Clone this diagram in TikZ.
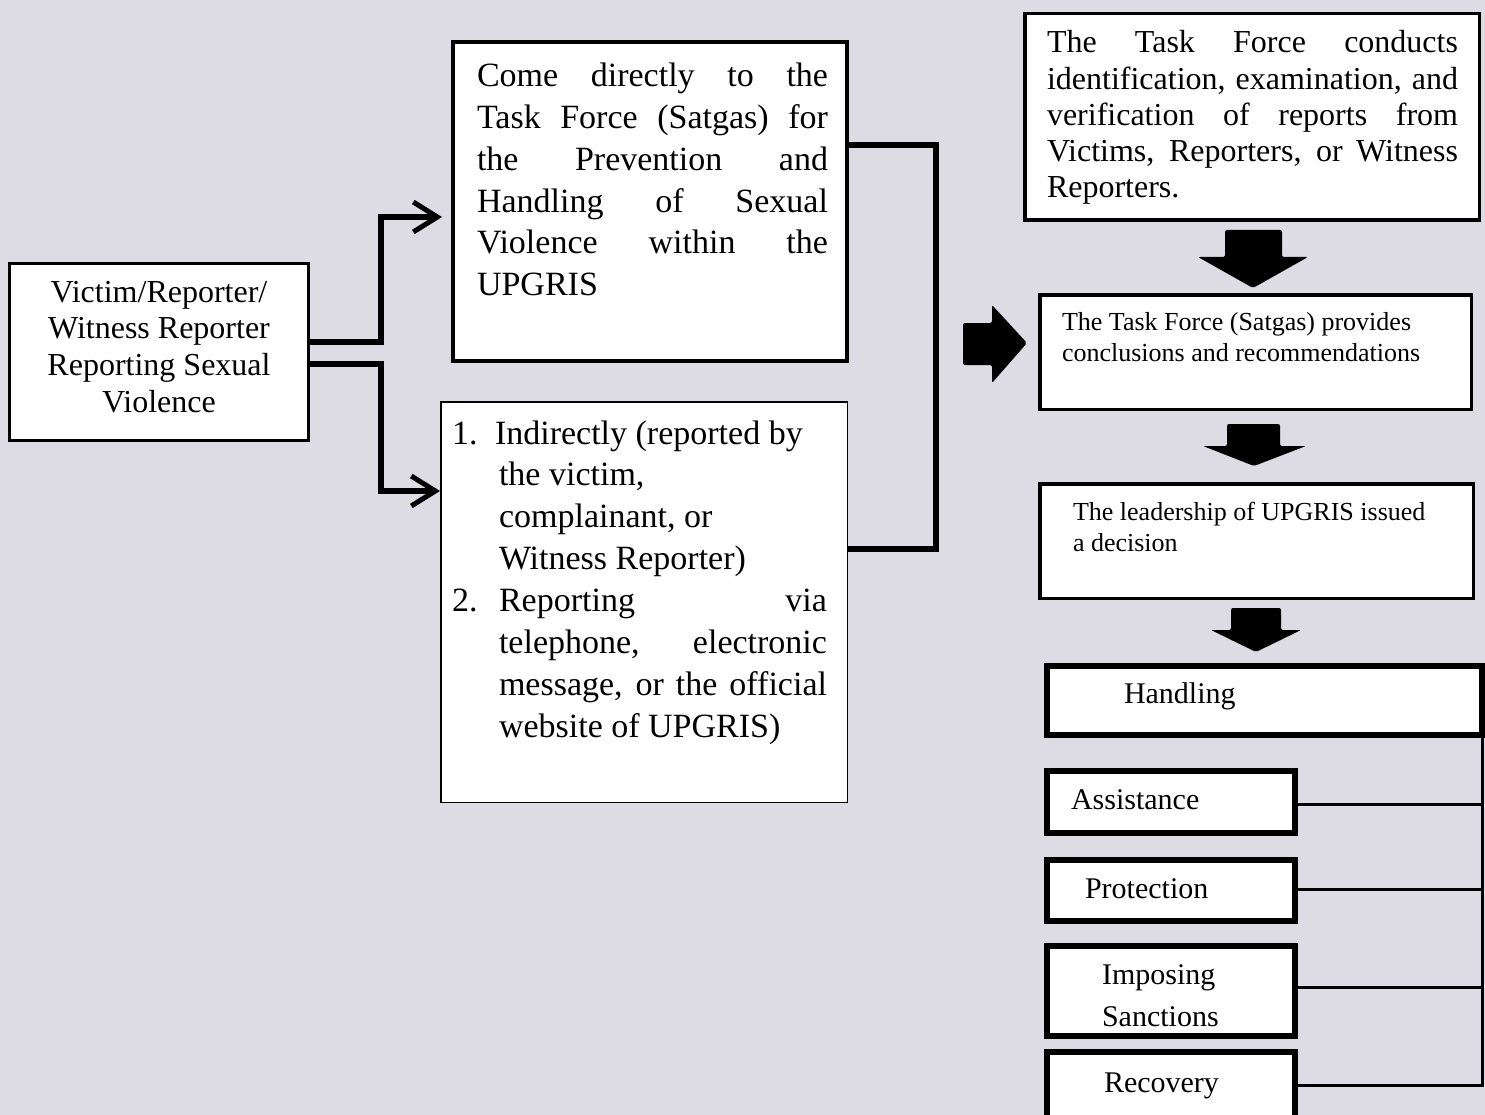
\documentclass[tikz,border=0pt]{standalone}
\usepackage{fontspec}
\setmainfont{Liberation Serif}
\usetikzlibrary{arrows.meta}
\definecolor{bg}{RGB}{221,220,229}
\newcommand\jl[1]{\makebox[\linewidth][s]{#1}}
\begin{document}
\begin{tikzpicture}[x=1pt,y=-1pt,
  box/.style={draw=black, fill=white, rectangle, inner sep=0pt, outer sep=0pt},
  txt/.style={anchor=base west, inner sep=0pt, outer sep=0pt},
  conn/.style={draw=black, line width=6pt},
  barb/.style={-{Straight Barb[length=24pt,width=30pt,line width=5pt]}},
  blockarrow/.style={fill=black, rounded corners=2pt},
  tie/.style={draw=black, line width=3pt}]
\useasboundingbox (0,0) rectangle (1485,1115);
\fill[bg] (0,0) rectangle (1485,1115);
\clip (0,0) rectangle (1485,1115);

% free ends of the left connectors
\coordinate (tipB) at (442,217);
\coordinate (tipC) at (440,491);

% boxes
\node[box, line width=3pt, minimum width=299pt, minimum height=177pt] (A) at (159,352) {};
\node[box, line width=4pt, minimum width=394pt, minimum height=319pt] (B) at (650,201.5) {};
\node[box, line width=1.5pt, minimum width=406.5pt, minimum height=400.5pt] (C) at (644,602) {};
\node[box, line width=3.5pt, minimum width=454.5pt, minimum height=206.5pt] (D) at (1252,117) {};
\node[box, line width=3.5pt, minimum width=431.5pt, minimum height=114.5pt] (E) at (1255.5,352) {};
\node[box, line width=3.5pt, minimum width=433.5pt, minimum height=114.5pt] (F) at (1256.5,541) {};
\node[box, line width=6pt, minimum width=435pt, minimum height=69pt] (H) at (1264.5,700.5) {};
\node[box, line width=6pt, minimum width=248pt, minimum height=62pt] (As) at (1171,802) {};
\node[box, line width=6pt, minimum width=248pt, minimum height=61pt] (Pr) at (1171,890.5) {};
\node[box, line width=6pt, minimum width=248pt, minimum height=90pt] (Im) at (1171,991) {};
\node[box, line width=6pt, minimum width=248pt, minimum height=88pt] (Re) at (1171,1096) {};

\draw[conn, barb] (A.east |- 0,342) -- (381,342) -- (381,217) -- (tipB);
\draw[conn, barb] (A.east |- 0,364) -- (381,364) -- (381,491) -- (tipC);
\draw[conn] (B.east |- 0,145) -- (936,145) -- (936,549) -- (C.east |- 0,549);

% right-side ties
\draw[tie] (H.south east) -- (H.south east |- 0,1085) -- (Re.east |- 0,1085);
\draw[tie] (As.east |- 0,804) -- (H.south east |- 0,804);
\draw[tie] (Pr.east |- 0,889) -- (H.south east |- 0,889);
\draw[tie] (Im.east |- 0,987) -- (H.south east |- 0,987);

% block arrows
\fill[blockarrow] (963,323) -- (992,323) -- (992,305) -- (1027,343) -- (992,383) -- (992,365) -- (963,365) -- cycle;
\fill[blockarrow] (1225,230) -- (1282,230) -- (1282,257) -- (1308,257) -- (1253,288) -- (1198,257) -- (1225,257) -- cycle;
\fill[blockarrow] (1227,424) -- (1280,424) -- (1280,446) -- (1306,446) -- (1254,466) -- (1203,446) -- (1227,446) -- cycle;
\fill[blockarrow] (1231,608) -- (1281,608) -- (1281,630) -- (1301,630) -- (1256,652) -- (1211,630) -- (1231,630) -- cycle;

% texts
\node[anchor=base, inner sep=0pt] (At) at (159,302) {\parbox[t]{300pt}{\centering\fontsize{32}{36.7}\selectfont Victim/Reporter/\\ Witness Reporter\\ Reporting Sexual\\ Violence}};

\node[txt] (Bt) at (477,87) {\parbox[t]{351pt}{\fontsize{34}{41.7}\selectfont
  \jl{Come directly to the}\\ \jl{Task Force (Satgas) for}\\ \jl{the Prevention and}\\
  \jl{Handling of Sexual}\\ \jl{Violence within the}\\ UPGRIS}};

\node[txt] (n1) at (452,444) {\fontsize{34}{41.9}\selectfont 1.};
\node[txt] (n2) at (452,611.6) {\fontsize{34}{41.9}\selectfont 2.};
\node[txt] (Ct) at (499,444) {\parbox[t]{328pt}{\fontsize{34}{41.9}\selectfont
  \hspace*{-4pt}Indirectly (reported by\\ the victim,\\ complainant, or\\ Witness Reporter)\\
  \jl{Reporting via}\\ \jl{telephone, electronic}\\ \jl{message, or the official}\\ website of UPGRIS)}};

\node[txt] (Dt) at (1047,53) {\parbox[t]{411pt}{\fontsize{32}{36.2}\selectfont
  \jl{The Task Force conducts}\\ \jl{identification, examination, and}\\
  \jl{verification of reports from}\\ \jl{Victims, Reporters, or Witness}\\ Reporters.}};

\node[txt] (Et) at (1062,330) {\parbox[t]{400pt}{\fontsize{26}{32}\selectfont
  The Task Force (Satgas) provides\\ conclusions and recommendations}};
\node[txt] (Ft) at (1073,520) {\parbox[t]{390pt}{\fontsize{26}{31}\selectfont
  The leadership of UPGRIS issued\\ a decision}};

\node[txt] (Ht) at (1124,703) {\fontsize{30}{36}\selectfont Handling};
\node[txt] (Ast) at (1071,809) {\fontsize{30}{36}\selectfont Assistance};
\node[txt] (Prt) at (1085,898) {\fontsize{30}{36}\selectfont Protection};
\node[txt] (Imt) at (1102,984) {\parbox[t]{200pt}{\fontsize{30}{42}\selectfont Imposing\\ Sanctions}};
\node[txt] (Ret) at (1104,1092) {\fontsize{30}{36}\selectfont Recovery};
\end{tikzpicture}
\end{document}
